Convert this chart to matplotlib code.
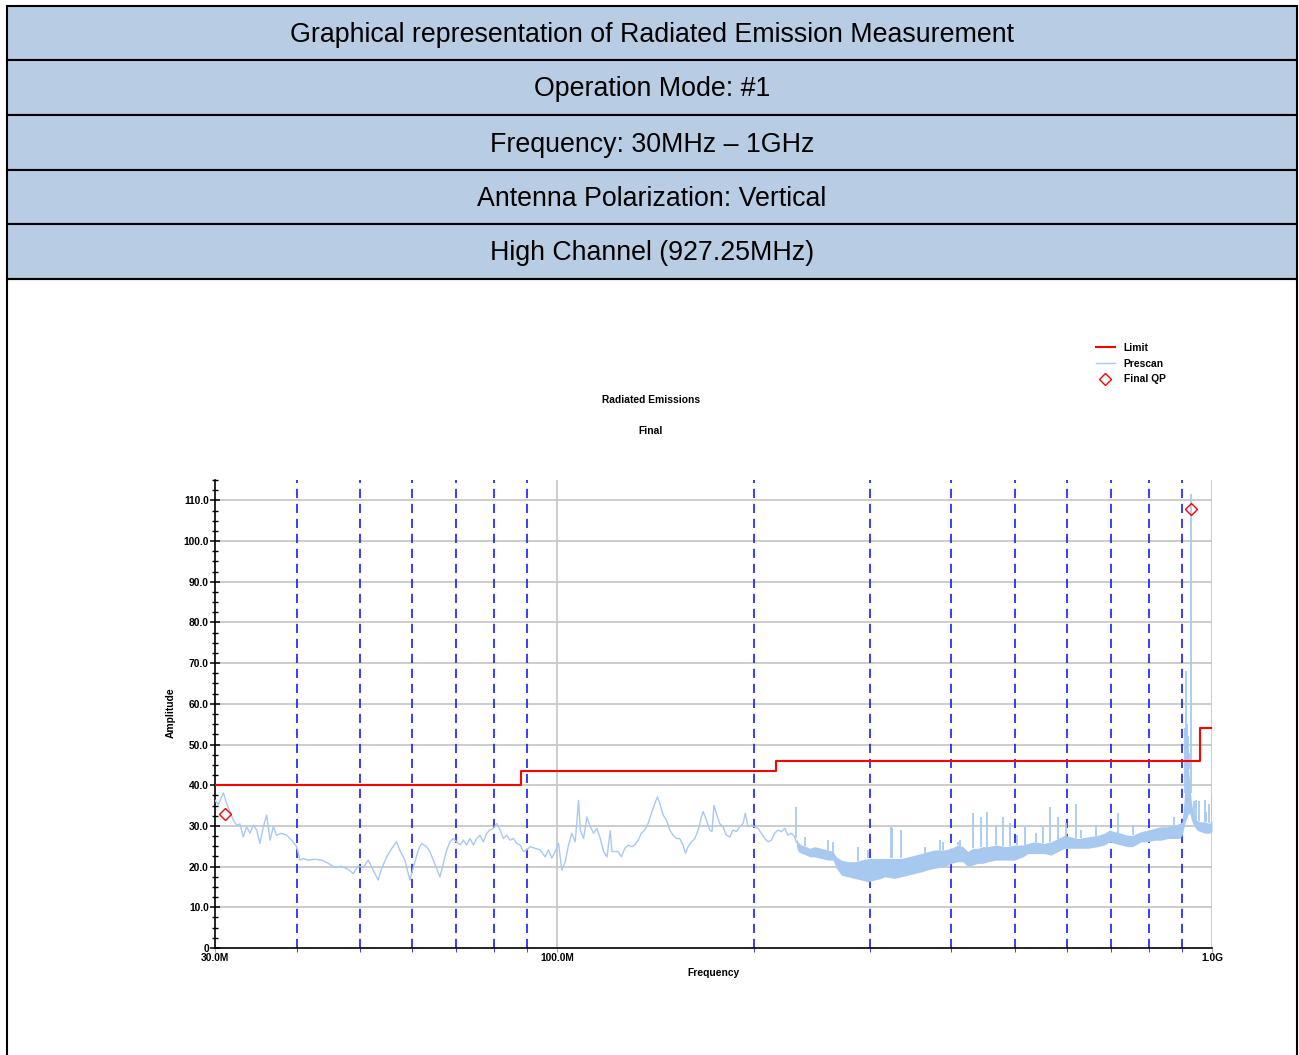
import numpy as np
import matplotlib
matplotlib.use('Agg')
import matplotlib.pyplot as plt
from matplotlib.patches import Rectangle
from matplotlib.lines import Line2D
from matplotlib.ticker import FixedLocator, NullFormatter, FixedFormatter

plt.rcParams['font.family'] = ['Liberation Sans', 'DejaVu Sans']

# Header rows
header_rows = [
    'Graphical representation of Radiated Emission Measurement',
    'Operation Mode: #1',
    'Frequency: 30MHz \u2013 1GHz',
    'Antenna Polarization: Vertical',
    'High Channel (927.25MHz)',
]

# Limit line (MHz, dBuV/m), step style
limit_freq = [30.0, 88.0, 88.0, 216.0, 216.0, 960.0, 960.0, 1000.0]
limit_amp = [40.0, 40.0, 43.5, 43.5, 46.0, 46.0, 54.0, 54.0]

# Prescan trace, low band
scan_freq = [30.0, 30.35, 30.9, 31.26, 31.62, 32.0, 32.37, 32.75, 33.14, 33.53,
             33.93, 34.33, 34.73, 35.14, 35.56, 35.98, 36.4, 36.83, 37.26, 37.92,
             38.6, 39.28, 39.98, 40.45, 40.92, 41.65, 42.64, 43.65, 44.68, 45.74,
             46.82, 47.93, 48.78, 49.65, 50.53, 51.42, 52.34, 53.27, 53.9, 54.85,
             55.82, 56.81, 57.48, 58.5, 59.54, 60.6,
             61.31, 62.04, 63.14, 63.88, 64.64, 65.4, 66.17, 66.96, 67.75, 68.55,
             69.36, 70.18, 71.01, 71.85, 72.7, 73.56, 74.43, 75.31, 76.2, 77.1,
             78.01, 78.93, 79.86, 80.81, 81.76, 82.73, 83.71, 84.7, 85.7, 86.71,
             87.74, 88.77, 89.82, 90.88, 92.5, 94.14, 95.81, 96.94, 98.09, 99.25,
             100.42, 101.61, 102.81, 104.02, 105.25, 106.5, 107.75, 108.39, 109.67, 110.97,
             112.28, 113.61, 114.95, 116.31, 117.68, 119.07, 120.48, 121.19, 122.4,
             123.8, 125.3, 126.8, 128.3, 129.8, 131.3, 132.9, 134.4, 136.0, 137.6,
             139.2, 140.9, 142.2, 143.4, 145.1, 146.8, 148.5, 150.3, 152.0, 153.8,
             155.6, 156.9, 158.4, 160.3, 162.2, 164.1, 166.0, 167.0, 169.0, 170.9,
             172.3, 173.5, 174.9, 177.0, 179.1, 181.2, 183.4, 185.5, 187.7, 189.9,
             192.2, 193.7, 195.6, 197.9, 200.2, 202.6, 204.9, 207.4, 209.8, 212.3,
             214.8, 217.3, 219.9, 222.5, 225.1, 227.8, 230.5, 231.8]
scan_amp = [36.3, 35.2, 38.1, 35.5, 33.5, 31.4, 30.2, 30.5, 27.3, 29.8,
            28.2, 30.2, 29.0, 25.7, 29.8, 32.7, 26.5, 29.8, 27.7, 28.2,
            27.7, 26.5, 24.9, 21.6, 22.0, 21.6, 21.8, 21.6, 20.8, 19.8,
            20.1, 19.3, 18.3, 20.1, 19.8, 21.6, 19.1, 16.7, 19.5, 22.3,
            24.4, 26.1, 24.0, 21.6, 16.7, 21.2,
            24.0, 25.7, 24.9, 23.7, 21.6, 19.5, 17.5, 20.8, 24.0, 26.1,
            26.9, 26.1, 25.3, 26.5, 25.3, 26.9, 25.3, 26.9, 27.7, 26.1,
            28.2, 29.0, 29.4, 30.6, 29.0, 26.9, 27.7, 26.5, 26.9, 25.7,
            25.3, 23.7, 24.1, 24.9, 24.5, 24.1, 22.4, 24.1, 22.1, 23.7,
            25.7, 19.1, 21.2, 25.3, 28.2, 26.1, 36.3, 29.0, 26.9, 32.2,
            29.8, 28.2, 29.4, 26.9, 23.7, 22.4, 28.8, 23.7, 23.7,
            23.7, 22.4, 24.5, 25.3, 24.9, 25.3, 26.5, 28.2, 29.0, 30.6,
            33.1, 35.5, 37.1, 35.5, 32.7, 31.4, 29.0, 27.7, 26.9, 26.9,
            25.3, 23.3, 24.9, 26.1, 26.9, 29.0, 32.2, 33.5, 31.4, 29.0,
            28.6, 35.1, 33.1, 30.6, 29.8, 27.7, 27.3, 29.0, 28.6, 29.8,
            30.6, 33.1, 29.8, 30.2, 29.8, 29.4, 28.2, 26.9, 26.1, 26.5,
            28.2, 29.0, 28.6, 29.4, 27.7, 28.2, 27.3, 26.0]

# Prescan noise band above ~230 MHz: lower / upper envelope
band_freq = [231.8, 233.2, 235.9, 240.1, 242.9, 247.2, 253.1, 259.1, 263.7, 266.8,
             271.5, 277.9, 284.5, 291.3, 298.2, 305.2, 312.5, 316.2, 327.5, 335.3,
             343.2, 351.3, 359.7, 368.2, 376.9, 390.4, 399.6, 409.1, 416.4, 423.7,
             431.3, 438.9, 446.7, 454.6, 468.2, 484.9, 499.3, 514.2, 523.3, 535.6,
             554.8, 568.0, 581.4, 595.1, 609.4, 623.8, 646.1, 669.3, 685.1, 697.3,
             709.6, 726.4, 743.6, 756.7, 779.3, 797.7, 816.7, 836.0, 855.8, 876.2,
             891.8, 900.0, 904.0, 910.0, 916.0, 920.0, 925.0, 930.0, 934.3, 947.4,
             960.0, 975.3, 990.2, 1000.0]
band_lo = [25.0, 23.7, 23.3, 22.8, 22.4, 22.4, 22.0, 21.6, 21.6, 19.6,
           17.9, 17.5, 17.1, 16.7, 16.3, 16.7, 17.1, 17.5, 17.1, 17.5,
           17.9, 18.3, 18.7, 19.2, 19.6, 20.0, 20.8, 21.2, 21.2, 20.0,
           20.4, 20.8, 20.8, 21.2, 21.6, 21.6, 21.6, 22.4, 23.2, 23.2,
           23.2, 22.8, 23.7, 24.5, 24.5, 24.5, 24.5, 24.9, 25.3, 26.1,
           25.7, 25.3, 24.9, 24.9, 26.1, 26.1, 26.5, 26.5, 26.9, 26.9,
           26.9, 27.7, 29.0, 31.0, 32.0, 33.0, 33.0, 31.5, 30.6, 29.0,
           28.6, 28.2, 28.2, 28.6]
band_hi = [27.0, 26.0, 25.3, 24.9, 24.5, 24.9, 24.5, 24.1, 23.7, 22.4,
           21.6, 21.2, 21.2, 21.6, 22.0, 22.0, 22.0, 22.0, 22.0, 22.0,
           22.4, 22.8, 23.2, 23.7, 24.1, 24.1, 24.5, 25.3, 24.9, 23.7,
           24.5, 24.5, 24.9, 24.9, 25.3, 24.9, 25.3, 25.3, 25.7, 26.1,
           25.7, 26.1, 26.9, 27.7, 27.3, 26.9, 27.3, 27.7, 28.2, 29.0,
           28.6, 28.2, 27.7, 27.7, 28.6, 29.0, 29.4, 29.8, 29.8, 30.2,
           30.6, 31.0, 34.0, 40.0, 46.0, 45.0, 40.0, 36.0, 34.0, 31.4,
           31.0, 31.0, 30.6, 31.4]

# Narrow spikes in the prescan (MHz, peak dB)
spike_freq = [231.8, 238.7, 259.1, 263.7, 287.9, 298.2, 322.9, 324.5, 335.3, 363.9,
              383.6, 388.1, 409.1, 412.5, 431.3, 444.1, 453.0, 468.2, 479.3, 490.6,
              504.0, 517.2, 538.8, 551.6, 564.7, 581.4, 597.9, 620.2, 631.2, 665.3,
              719.6, 756.7, 876.2, 908.0, 911.5, 914.5, 918.0, 921.0, 927.25, 940.0,
              945.6, 956.7, 975.3, 979.4, 990.2, 999.0]
spike_amp = [34.7, 27.3, 26.5, 26.1, 24.9, 24.1, 29.8, 29.4, 29.0, 24.9,
             26.5, 26.1, 26.1, 26.5, 33.1, 32.2, 33.5, 30.2, 32.2, 30.6,
             27.7, 29.8, 28.2, 29.8, 34.7, 32.2, 30.6, 35.5, 29.0, 30.2,
             33.1, 30.2, 32.2, 54.0, 68.0, 55.0, 52.0, 48.0, 111.5, 36.0,
             36.3, 36.0, 36.3, 33.5, 35.5, 37.6]

# Final QP results
qp_freq = [31.1, 927.25]
qp_amp = [32.9, 107.8]

# Marker frequencies (blue dashed)
marker_freq = [40, 50, 60, 70, 80, 90, 200, 300, 400, 500, 600, 700, 800, 900]

W, H = 1299, 1055
fig = plt.figure(figsize=(W / 100, H / 100), dpi=100)


def fx(px):
    return px / W


def fy(py):
    return 1 - py / H


small = 7.4

# header table
row_edges = [6, 60, 115, 170, 224, 279]
for i, txt in enumerate(header_rows):
    top, bot = row_edges[i], row_edges[i + 1]
    fig.add_artist(Rectangle((fx(7), fy(bot)), fx(1297) - fx(7), fy(top) - fy(bot),
                             transform=fig.transFigure, facecolor='#b8cce4',
                             edgecolor='black', lw=1.5))
    fig.text(fx(652), fy((top + bot) / 2 + 2), txt, ha='center', va='center',
             fontsize=19.3, color='black')
# chart box
fig.add_artist(Rectangle((fx(7), fy(1070)), fx(1297) - fx(7), fy(279) - fy(1070),
                         transform=fig.transFigure, facecolor='none',
                         edgecolor='black', lw=1.5, clip_on=False))

ax = fig.add_axes([fx(215), fy(948), fx(1212) - fx(215), fy(480) - fy(948)])
ax.set_xscale('log')
ax.set_xlim(30, 1000)
ax.set_ylim(0, 115)

# grid
for v in range(10, 111, 10):
    ax.axhline(v, color='#c8c8c8', lw=1.3, zorder=1)
for f in [100, 1000]:
    ax.axvline(f, color='#c8c8c8', lw=1.3, zorder=1)
for f in marker_freq:
    ax.axvline(f, color='#1a1aff', lw=1.2, ls=(0, (5.5, 3.5)), zorder=2)

prescan_col = '#a8c9ef'
ax.fill_between(band_freq, band_lo, band_hi, color=prescan_col, lw=0, zorder=3)
ax.plot(scan_freq, scan_amp, color=prescan_col, lw=1.0, zorder=3)
band_top = np.interp(spike_freq, band_freq, band_hi)
ax.vlines(spike_freq, band_top, spike_amp, color=prescan_col, lw=1.3, zorder=3)

ax.plot(limit_freq, limit_amp, color='#ff0000', lw=1.5, zorder=4)
ax.plot(qp_freq, qp_amp, ls='none', marker='D', ms=6, mfc='none', mec='#ff0000',
        mew=1.0, zorder=5)

# axes styling
for s in ['top', 'right']:
    ax.spines[s].set_visible(False)
ax.spines['left'].set_linewidth(1.2)
ax.spines['bottom'].set_linewidth(1.2)

ax.yaxis.set_major_locator(FixedLocator(np.arange(0, 111, 10)))
ax.yaxis.set_major_formatter(FixedFormatter(['0'] + ['%.1f' % v for v in range(10, 111, 10)]))
ax.yaxis.set_minor_locator(FixedLocator(np.arange(0, 115.1, 2.5)))
ax.tick_params(axis='y', which='major', direction='inout', length=7, width=1.1,
               labelsize=small, pad=1)
ax.tick_params(axis='y', which='minor', direction='inout', length=5, width=1.0)

ax.xaxis.set_major_locator(FixedLocator([30, 100, 1000]))
ax.xaxis.set_major_formatter(FixedFormatter(['30.0M', '100.0M', '1.0G']))
ax.xaxis.set_minor_locator(FixedLocator(marker_freq))
ax.xaxis.set_minor_formatter(NullFormatter())
ax.tick_params(axis='x', which='major', length=3, color='#aaaaaa', labelsize=small, pad=0.5)
ax.tick_params(axis='x', which='minor', length=3, color='#1a1aff')
for lbl in ax.get_xticklabels() + ax.get_yticklabels():
    lbl.set_fontweight('bold')

fig.text(fx(171), fy(713), 'Amplitude', rotation=90, ha='center', va='center',
         fontsize=small, fontweight='bold')
fig.text(fx(713), fy(973), 'Frequency', ha='center', va='center',
         fontsize=small, fontweight='bold')
fig.text(fx(651), fy(400), 'Radiated Emissions', ha='center', va='center',
         fontsize=small, fontweight='bold')
fig.text(fx(651), fy(431), 'Final', ha='center', va='center',
         fontsize=small, fontweight='bold')

handles = [Line2D([], [], color='#ff0000', lw=1.5),
           Line2D([], [], color=prescan_col, lw=1.0),
           Line2D([], [], ls='none', marker='D', ms=6, mfc='none', mec='#ff0000', mew=1.0)]
leg = fig.legend(handles, ['Limit', 'Prescan', 'Final QP'], loc='upper left',
                 bbox_to_anchor=(fx(1096), fy(343)), frameon=False,
                 prop={'size': small, 'weight': 'bold'}, handlelength=1.8,
                 handletextpad=0.9, labelspacing=0.55, borderpad=0, borderaxespad=0)

fig.savefig('out.png', dpi=100)
